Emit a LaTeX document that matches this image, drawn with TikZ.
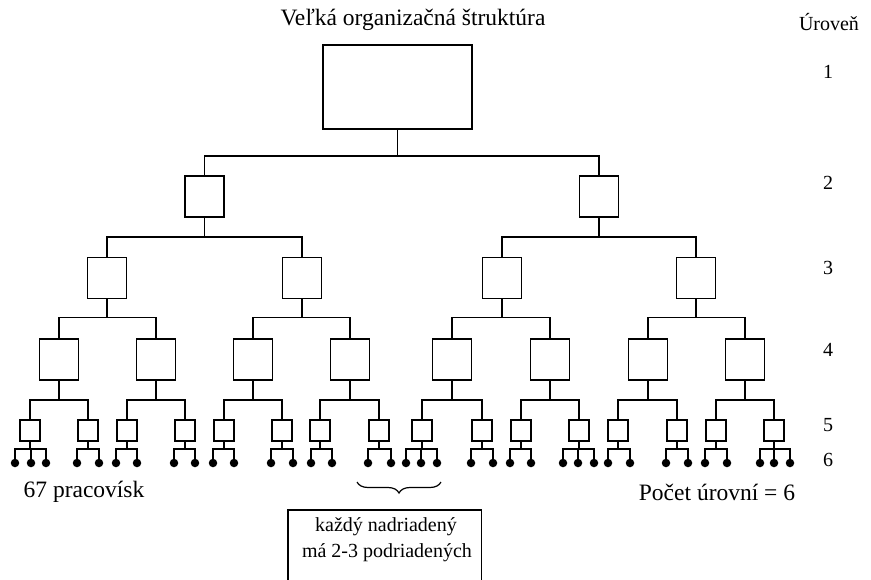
\documentclass[tikz,border=0pt]{standalone}
\usepackage{fontspec}
\setmainfont{Liberation Serif}
\usetikzlibrary{decorations.pathreplacing}

\tikzset{
  orgbox/.style={draw, line width=1.6pt, inner sep=0pt, outer sep=0pt, fill=white},
  topbox/.style={orgbox, minimum width=149pt, minimum height=84pt},
  midbox/.style={orgbox, minimum width=39pt, minimum height=41pt},
  smallbox/.style={orgbox, minimum width=20pt, minimum height=21pt},
  worker/.style={circle, fill=black, inner sep=0pt, outer sep=0pt, minimum size=8.5pt},
  link/.style={line width=1.6pt},
  lbl/.style={font=\fontsize{20}{24}\selectfont, inner sep=0pt},
  biglbl/.style={font=\fontsize{23.5}{28}\selectfont, inner sep=0pt}
}

\begin{document}
\begin{tikzpicture}[x=1pt, y=-1pt]
\useasboundingbox (0,0) rectangle (871,579);

% title and level scale
\node[biglbl] (title) at (413,20) {Veľká organizačná štruktúra};
\node[lbl] (lvhead) at (829,22) {Úroveň};
\foreach \n/\y in {1/72, 2/183, 3/268, 4/350, 5/425, 6/460}
  \node[lbl] (lv\n) at (828,\y) {\n};

% level 1
\node[topbox] (a1) at (397.5,87) {};

% level 2
\node[midbox] (b1) at (204.5,196.5) {};
\node[midbox] (b2) at (599,196.5) {};
\foreach \i in {1,2}
  \draw[link] (a1.south) -- ++(0,27) -| (b\i.north);

% level 3
\foreach \x [count=\i] in {107,302,502,696}
  \node[midbox] (c\i) at (\x,278) {};
\foreach \p/\c in {1/1, 1/2, 2/3, 2/4}
  \draw[link] (b\p.south) -- ++(0,20) -| (c\c.north);

% level 4
\foreach \x [count=\i] in {59,156,253,350,452,550,648,745}
  \node[midbox] (d\i) at (\x,359.5) {};
\foreach \p/\c in {1/1, 1/2, 2/3, 2/4, 3/5, 3/6, 4/7, 4/8}
  \draw[link] (c\p.south) -- ++(0,19) -| (d\c.north);

% level 5
\foreach \x [count=\i] in {30,88,127,185,224,282,320,379,422,482,521,579,618,677,716,774}
  \node[smallbox] (e\i) at (\x,430.5) {};
\foreach \i in {1,...,8}{
  \pgfmathtruncatemacro\ca{2*\i-1}
  \pgfmathtruncatemacro\cb{2*\i}
  \draw[link] (d\i.south) -- ++(0,20) -| (e\ca.north);
  \draw[link] (d\i.south) -- ++(0,20) -| (e\cb.north);
}

% level 6: workplaces
\foreach \b/\x [count=\k] in {1/15, 1/31, 1/46, 2/77, 2/99, 3/116, 3/137, 4/174, 4/195,
    5/213, 5/234, 6/271, 6/293, 7/311, 7/332, 8/368, 8/391,
    9/406, 9/421, 9/437, 10/471, 10/493, 11/510, 11/531,
    12/563, 12/578, 12/594, 13/608, 13/630, 14/666, 14/688,
    15/705, 15/727, 16/760, 16/774, 16/790}{
  \node[worker] (f\k) at (\x,463) {};
  \draw[link] (e\b.south) -- ++(0,8) -| (f\k.north);
}

% bottom notes
\node[biglbl] (count) at (84,492) {67 pracovísk};
\node[biglbl] (levels) at (717,492) {Počet úrovní = 6};

\coordinate (brL) at (357,482);
\coordinate (brR) at (441,482);
\draw[line width=1.2pt, decoration={brace, mirror, amplitude=11pt}, decorate] (brL) -- (brR);

\node[inner sep=0pt, minimum width=193pt, minimum height=80pt, anchor=north west] (note) at (288,510) {};
\draw[line width=1.6pt] (note.south west) -- (note.north west) -- (note.north east) -- (note.south east);
\node[lbl] (note1) at (386,527) {každý nadriadený};
\node[lbl] (note2) at (387,553) {má 2-3 podriadených};
\end{tikzpicture}
\end{document}
